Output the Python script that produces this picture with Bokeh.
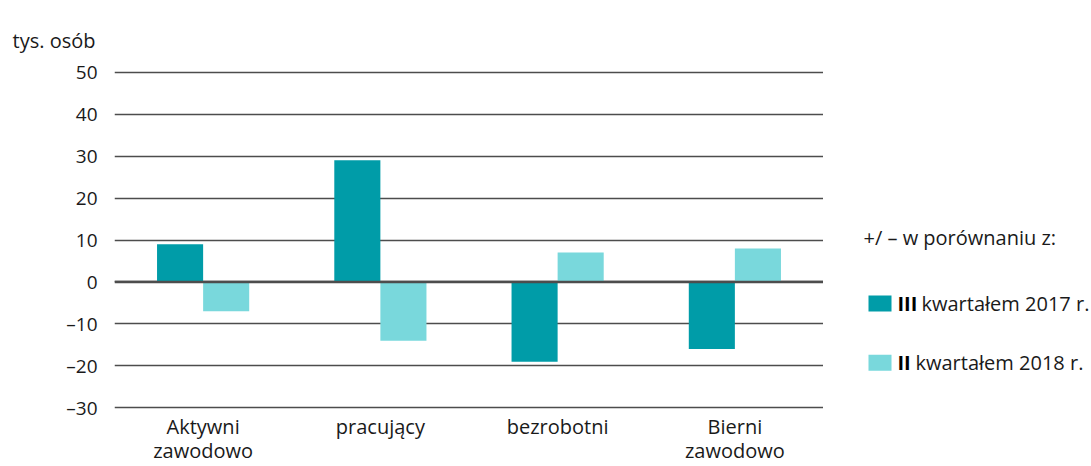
from bokeh.plotting import figure
from bokeh.layouts import row
from bokeh.models import (FactorRange, Range1d, FixedTicker, Span, ColumnDataSource)
from bokeh.core.properties import value
from bokeh.transform import dodge
from bokeh.embed import file_html
from bokeh.resources import INLINE

categories = ["Aktywni\nzawodowo", "pracujący", "bezrobotni", "Bierni\nzawodowo"]
iii_2017 = [9, 29, -19, -16]
ii_2018 = [-7, -14, 7, 8]
y_ticks = [-30, -20, -10, 0, 10, 20, 30, 40, 50]
series_names = ["III", "II"]
series_rest = ["kwartałem 2017 r.", "kwartałem 2018 r."]
legend_title = "+/ – w porównaniu z:"
unit_label = "tys. osób"

DARK = "#009ca8"
LIGHT = "#79d8dc"
TXT = "#1a1a1a"
GRID = "#4d4d4d"
FONT = "Open Sans"

src = ColumnDataSource(dict(cat=categories, a=iii_2017, b=ii_2018))

# ---- main chart ----
p = figure(width=823, height=466, output_backend="svg", toolbar_location=None,
           x_range=FactorRange(*categories), y_range=Range1d(-30.4, 50.4),
           min_border_left=114, min_border_right=0, min_border_top=70,
           min_border_bottom=20)
p.outline_line_color = None
p.background_fill_color = "white"

r1 = p.vbar(x=dodge("cat", -0.13, range=p.x_range), top="a", bottom=0, width=0.26,
            source=src, fill_color=DARK, line_color=None)
r2 = p.vbar(x=dodge("cat", 0.13, range=p.x_range), top="b", bottom=0, width=0.26,
            source=src, fill_color=LIGHT, line_color=None)

p.xgrid.grid_line_color = None
p.ygrid.ticker = FixedTicker(ticks=y_ticks)
p.ygrid.grid_line_color = GRID
p.ygrid.grid_line_width = 1.3

p.yaxis.ticker = FixedTicker(ticks=y_ticks)
p.yaxis.major_label_overrides = {t: ("–" + str(-t) if t < 0 else str(t)) for t in y_ticks}
for ax in (p.xaxis, p.yaxis):
    ax.axis_line_color = None
    ax.major_tick_line_color = None
    ax.minor_tick_line_color = None
    ax.major_tick_out = 0
    ax.major_tick_in = 0
    ax.major_label_text_font = FONT
    ax.major_label_text_color = TXT
p.yaxis.major_label_text_font_size = "19px"
p.xaxis.major_label_text_font_size = "20px"
p.yaxis.major_label_standoff = 17
p.xaxis.major_label_standoff = 3
p.xaxis.major_label_text_line_height = 0.9

p.add_layout(Span(location=0, dimension="width", line_color=GRID, line_width=2.5))

p.title.text = unit_label
p.title.align = "left"
p.title.offset = -102
p.title.standoff = 34
p.title.text_font = FONT
p.title.text_font_size = "20px"
p.title.text_font_style = "normal"
p.title.text_color = TXT

# ---- legend panel (frame aligned with the chart frame; units = page px, y downward) ----
LW = 268
X0 = 823
leg = figure(width=LW, height=466, output_backend="svg", toolbar_location=None,
             x_range=Range1d(X0, X0 + LW), y_range=Range1d(408.7, 70.3),
             min_border=0, outline_line_color=None)
leg.axis.visible = False
leg.grid.visible = False

leg.text(x=[863], y=[237], text=[legend_title], text_font=value(FONT),
         text_font_size="20px", text_color=TXT, text_baseline="middle")
item_y = [303, 362]
leg.rect(x=[879.5, 879.5], y=item_y, width=23, height=16, width_units="screen",
         height_units="screen", fill_color=[DARK, LIGHT], line_color=None)
leg.text(x=[897, 897], y=item_y, text=series_names, text_font=value(FONT),
         text_font_style="bold", text_font_size="20px", text_color="black",
         text_baseline="middle")
leg.text(x=[921, 915], y=item_y, text=series_rest, text_font=value(FONT),
         text_font_size="20px", text_color=TXT, text_baseline="middle")

layout = row(p, leg, spacing=0)
open("out.html", "w").write(file_html(layout, INLINE))
